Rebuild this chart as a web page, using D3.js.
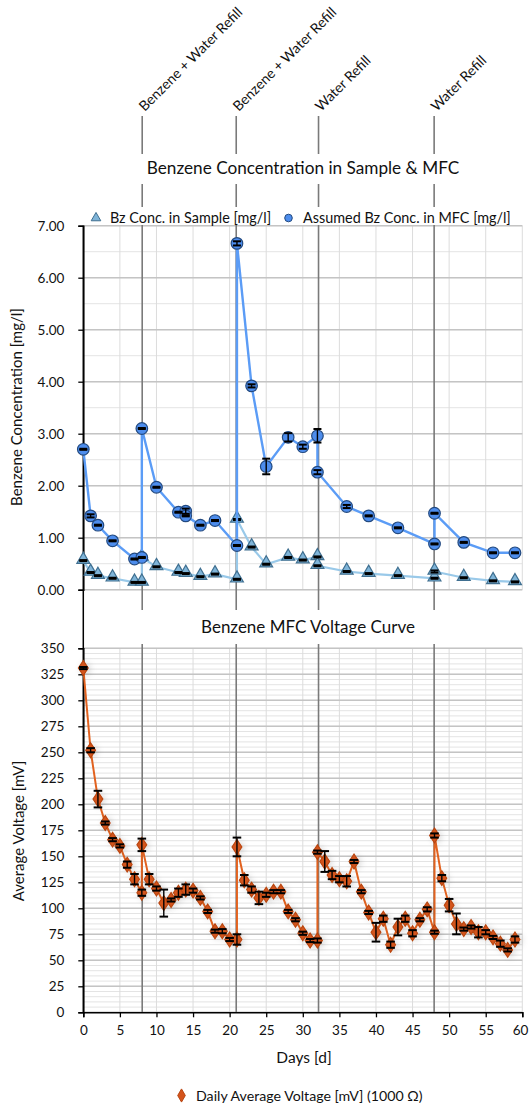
<!DOCTYPE html>
<html>
<head>
<meta charset="utf-8">
<script src="https://cdn.jsdelivr.net/npm/d3@7"></script>
<style>
  html, body { margin: 0; padding: 0; background: #fff; }
  svg { display: block; font-family: Lato, "Noto Sans", sans-serif; }
</style>
</head>
<body>
<svg id="chart" width="529" height="1104"></svg>
<script>
// ---------- DATA ----------
const eventDays = [8.05, 20.9, 32.15, 47.95];
const eventLabels = ["Benzene + Water Refill", "Benzene + Water Refill", "Water Refill", "Water Refill"];

const sampleDays = [0, 1, 2, 4, 7, 8, 8, 10, 13, 14, 16, 18, 21, 21, 23, 25, 28, 30, 32, 32, 36, 39, 43, 48, 48, 52, 56, 59];
const sampleConc = [0.56, 0.33, 0.27, 0.22, 0.14, 0.14, 0.62, 0.44, 0.33, 0.31, 0.25, 0.30, 0.20, 1.35, 0.82, 0.49, 0.62, 0.57, 0.63, 0.46, 0.35, 0.31, 0.27, 0.22, 0.35, 0.23, 0.17, 0.15];
const sampleErr  = [0.01, 0.01, 0.01, 0.01, 0.01, 0.01, 0.01, 0.01, 0.01, 0.01, 0.01, 0.01, 0.01, 0.01, 0.01, 0.01, 0.01, 0.01, 0.01, 0.01, 0.01, 0.01, 0.01, 0.01, 0.02, 0.01, 0.01, 0.01];

const mfcDays = [0, 1, 2, 4, 7, 8, 8, 10, 13, 14, 14, 16, 18, 21, 21, 23, 25, 28, 30, 32, 32, 36, 39, 43, 48, 48, 52, 56, 59];
const mfcConc = [2.70, 1.42, 1.24, 0.94, 0.59, 0.62, 3.10, 1.97, 1.49, 1.51, 1.42, 1.24, 1.33, 0.85, 6.66, 3.92, 2.37, 2.93, 2.75, 2.96, 2.26, 1.60, 1.42, 1.19, 0.88, 1.47, 0.91, 0.71, 0.71];
const mfcErr  = [0.01, 0.03, 0.01, 0.01, 0.01, 0.01, 0.01, 0.01, 0.01, 0.05, 0.01, 0.01, 0.01, 0.01, 0.04, 0.03, 0.15, 0.08, 0.04, 0.13, 0.04, 0.03, 0.01, 0.01, 0.01, 0.01, 0.01, 0.01, 0.01];

const voltDays = [0, 1, 2, 3, 4, 5, 6, 7, 8, 8, 9, 10, 11, 12, 13, 14, 15, 16, 17, 18, 19, 20, 21, 21, 22, 23, 24, 25, 26, 27, 28, 29, 30, 31, 32, 32, 33, 34, 35, 36, 37, 38, 39, 40, 41, 42, 43, 44, 45, 46, 47, 48, 48, 49, 50, 51, 52, 53, 54, 55, 56, 57, 58, 59];
const voltVals = [331, 252, 205, 182, 166, 160, 142, 128, 115, 161, 128, 119, 105, 108, 115, 118, 117, 110, 97, 78, 78, 70, 70, 159, 127, 118, 110, 113, 116, 116, 97, 89, 76, 69, 69, 154, 145, 132, 128, 126, 145, 116, 96, 77, 90, 65, 82, 90, 76, 89, 99, 77, 170, 129, 103, 85, 80, 82, 77, 77, 72, 66, 60, 70];
const voltErr  = [1, 2, 8, 1.5, 1.5, 1.5, 3, 5, 3, 6, 5, 2, 13, 1.5, 4, 5, 2, 1.5, 1.5, 1.5, 2, 1.5, 5, 9, 5, 3, 6, 2, 1.5, 1.5, 1.5, 1.5, 1.5, 1.5, 2, 1.5, 10, 4, 3, 5, 1.5, 1.5, 1.5, 9, 3, 3, 8, 3, 3, 1.5, 2, 1.5, 2, 3, 6, 10, 1.5, 1.5, 5, 2, 1.5, 3, 1.5, 3];

const xTicks = [0, 5, 10, 15, 20, 25, 30, 35, 40, 45, 50, 55, 60];
const concTicks = [0, 1, 2, 3, 4, 5, 6, 7];
const voltTicks = [0, 25, 50, 75, 100, 125, 150, 175, 200, 225, 250, 275, 300, 325, 350];

const topTitle = "Benzene Concentration in Sample & MFC";
const bottomTitle = "Benzene MFC Voltage Curve";
const sampleName = "Bz Conc. in Sample [mg/l]";
const mfcName = "Assumed Bz Conc. in MFC [mg/l]";
const voltName = "Daily Average Voltage [mV] (1000 Ω)";

// ---------- LAYOUT ----------
const svg = d3.select("#chart");
const X0 = 83.3, X1 = 522.3;
const topY0 = 225.7, topY1 = 589.7;
const botY0 = 648.3, botY1 = 1012.3;

const x = d3.scaleLinear().domain([0, 60]).range([X0, X1]);
const yTop = d3.scaleLinear().domain([0, 7]).range([topY1, topY0]);
const yBot = d3.scaleLinear().domain([0, 350]).range([botY1, botY0]);

const defs = svg.append("defs");
const f = defs.append("filter").attr("id", "shadow").attr("x", "-100%").attr("y", "-100%").attr("width", "300%").attr("height", "300%");
f.append("feDropShadow").attr("dx", 2).attr("dy", 1).attr("stdDeviation", 3).attr("flood-color", "#000").attr("flood-opacity", 0.15);

// ---------- GRIDS ----------
function grid(g, y, minorStep, majorTicks, y0, y1) {
  const dom = y.domain();
  const minor = d3.range(dom[0], dom[1] + 1e-9, minorStep);
  g.selectAll(".minor").data(minor).join("line")
    .attr("x1", X0).attr("x2", X1)
    .attr("y1", d => y(d)).attr("y2", d => y(d))
    .attr("stroke", "#e4e4e4").attr("stroke-width", 1);
  g.selectAll(".vg").data(xTicks).join("line")
    .attr("x1", d => x(d)).attr("x2", d => x(d))
    .attr("y1", y0).attr("y2", y1)
    .attr("stroke", "#dcdcdc").attr("stroke-width", 1);
  g.selectAll(".major").data(majorTicks).join("line")
    .attr("x1", X0).attr("x2", X1)
    .attr("y1", d => y(d)).attr("y2", d => y(d))
    .attr("stroke", "#c4c4c4").attr("stroke-width", 1.5);
}
grid(svg.append("g"), yTop, 0.5, concTicks, topY0, topY1);
grid(svg.append("g"), yBot, 5, voltTicks, botY0, botY1);

// ---------- EVENT LINES ----------
svg.append("g").selectAll("line").data(eventDays).join("line")
  .attr("x1", d => x(d)).attr("x2", d => x(d))
  .attr("y1", 116).attr("y2", botY1)
  .attr("stroke", "#7a7a7a").attr("stroke-width", 1.6);

svg.append("g").selectAll("text").data(eventDays).join("text")
  .attr("transform", d => `translate(${x(d) + 2.5},112) rotate(-45)`)
  .attr("font-size", 14).attr("fill", "#111")
  .text((d, i) => eventLabels[i]);

// white bands for titles / legend
svg.append("rect").attr("x", X0 + 1).attr("y", 154).attr("width", 529 - X0).attr("height", 30).attr("fill", "#fff");
svg.append("rect").attr("x", X0 + 1).attr("y", 207).attr("width", 529 - X0).attr("height", 18).attr("fill", "#fff");
svg.append("rect").attr("x", X0 + 1).attr("y", 610).attr("width", 529 - X0).attr("height", 34).attr("fill", "#fff");

svg.append("text").attr("x", 303).attr("y", 174).attr("text-anchor", "middle")
  .attr("font-size", 17.2).attr("fill", "#111").text(topTitle);
svg.append("text").attr("x", 308).attr("y", 633).attr("text-anchor", "middle")
  .attr("font-size", 17).attr("fill", "#111").text(bottomTitle);

// ---------- AXES ----------
svg.append("line").attr("x1", X0).attr("x2", X0).attr("y1", topY0).attr("y2", botY1)
  .attr("stroke", "#000").attr("stroke-width", 1.5);

const yAxisTop = d3.axisLeft(yTop).tickValues(concTicks).tickFormat(d3.format(".2f")).tickSize(5).tickPadding(14);
const gT = svg.append("g").attr("transform", `translate(${X0},0)`).call(yAxisTop);
const yAxisBot = d3.axisLeft(yBot).tickValues(voltTicks).tickFormat(d3.format("d")).tickSize(5).tickPadding(14);
const gB = svg.append("g").attr("transform", `translate(${X0},0)`).call(yAxisBot);
const xAxis = d3.axisBottom(x).tickValues(xTicks).tickFormat(d3.format("d")).tickSize(5).tickPadding(8);
const gX = svg.append("g").attr("transform", `translate(0,${botY1})`).call(xAxis);
[gT, gB, gX].forEach(g => {
  g.select(".domain").attr("stroke", "#000").attr("stroke-width", 1.5);
  g.selectAll(".tick line").attr("stroke", "#000").attr("stroke-width", 1.3);
  g.selectAll(".tick text").attr("font-size", 13.5).attr("fill", "#111").attr("font-family", "Lato, 'Noto Sans', sans-serif");
});
// keep the last x label inside the page
gX.selectAll(".tick text").filter(d => d === 60).attr("text-anchor", "end").attr("dx", 5.5);

svg.append("text").attr("transform", "translate(22,407) rotate(-90)").attr("text-anchor", "middle")
  .attr("font-size", 15).attr("fill", "#111").text("Benzene Concentration [mg/l]");
svg.append("text").attr("transform", "translate(24,831) rotate(-90)").attr("text-anchor", "middle")
  .attr("font-size", 15).attr("fill", "#111").text("Average Voltage [mV]");
svg.append("text").attr("x", 304).attr("y", 1063).attr("text-anchor", "middle")
  .attr("font-size", 15.5).attr("fill", "#111").text("Days [d]");

// ---------- SERIES ----------
const sampleData = sampleDays.map((d, i) => ({ d, v: sampleConc[i], e: sampleErr[i] }));
const mfcData = mfcDays.map((d, i) => ({ d, v: mfcConc[i], e: mfcErr[i] }));
const voltData = voltDays.map((d, i) => ({ d, v: voltVals[i], e: voltErr[i] }));

function errorBars(g, data, y, cap) {
  const eb = g.append("g");
  eb.selectAll(".ev").data(data).join("line")
    .attr("x1", d => x(d.d)).attr("x2", d => x(d.d))
    .attr("y1", d => y(d.v - d.e)).attr("y2", d => y(d.v + d.e))
    .attr("stroke", "#000").attr("stroke-width", 1.4);
  ["lo", "hi"].forEach(k => {
    eb.selectAll(".c" + k).data(data).join("line")
      .attr("x1", d => x(d.d) - cap).attr("x2", d => x(d.d) + cap)
      .attr("y1", d => y(k === "lo" ? d.v - d.e : d.v + d.e))
      .attr("y2", d => y(k === "lo" ? d.v - d.e : d.v + d.e))
      .attr("stroke", "#000").attr("stroke-width", 2);
  });
}

// Sample series
const gs = svg.append("g");
gs.append("path").datum(sampleData)
  .attr("d", d3.line().x(d => x(d.d)).y(d => yTop(d.v)))
  .attr("fill", "none").attr("stroke", "#99c9e9").attr("stroke-width", 2.2);
gs.selectAll("path.m").data(sampleData).join("path").attr("class", "m")
  .attr("d", d3.symbol(d3.symbolTriangle, 72)())
  .attr("transform", d => `translate(${x(d.d)},${yTop(d.v) - 1})`)
  .attr("fill", "#7fb4d8").attr("stroke", "#3f6f90").attr("stroke-width", 1.2);
errorBars(gs, sampleData, yTop, 4);

// MFC series
const gm = svg.append("g");
gm.append("path").datum(mfcData)
  .attr("d", d3.line().x(d => x(d.d)).y(d => yTop(d.v)))
  .attr("fill", "none").attr("stroke", "#5b9cf6").attr("stroke-width", 2.4);
gm.selectAll("circle").data(mfcData).join("circle")
  .attr("cx", d => x(d.d)).attr("cy", d => yTop(d.v)).attr("r", 5.8)
  .attr("fill", "#4d8ded").attr("stroke", "#234a80").attr("stroke-width", 1.2);
errorBars(gm, mfcData, yTop, 4);

// legend top
const lg = svg.append("g");
lg.append("path").attr("d", d3.symbol(d3.symbolTriangle, 40)())
  .attr("transform", "translate(96,218)")
  .attr("fill", "#7fb4d8").attr("stroke", "#3f6f90").attr("stroke-width", 1);
lg.append("text").attr("x", 110).attr("y", 223).attr("font-size", 14.4).attr("fill", "#111").text(sampleName);
lg.append("circle").attr("cx", 288.5).attr("cy", 218).attr("r", 3.8)
  .attr("fill", "#4d8ded").attr("stroke", "#234a80").attr("stroke-width", 1);
lg.append("text").attr("x", 303).attr("y", 223).attr("font-size", 14.4).attr("fill", "#111").text(mfcName);

// Voltage series
const gv = svg.append("g");
gv.append("path").datum(voltData)
  .attr("d", d3.line().x(d => x(d.d)).y(d => yBot(d.v)))
  .attr("fill", "none").attr("stroke", "#e2621f").attr("stroke-width", 2);
gv.selectAll("path.m").data(voltData).join("path").attr("class", "m")
  .attr("d", d3.symbol(d3.symbolDiamond, 64)())
  .attr("transform", d => `translate(${x(d.d)},${yBot(d.v)}) scale(1.15,1)`)
  .attr("fill", "#d4541c").attr("stroke", "#b84510").attr("stroke-width", 1)
  .attr("filter", "url(#shadow)");
errorBars(gv, voltData, yBot, 4.3);

// legend bottom
svg.append("path").attr("d", d3.symbol(d3.symbolDiamond, 50)())
  .attr("transform", "translate(181.5,1095.5)")
  .attr("fill", "#d4541c").attr("stroke", "#b84510").attr("stroke-width", 1);
svg.append("text").attr("x", 196).attr("y", 1100.5).attr("font-size", 14.2).attr("fill", "#111").text(voltName);
</script>
</body>
</html>
